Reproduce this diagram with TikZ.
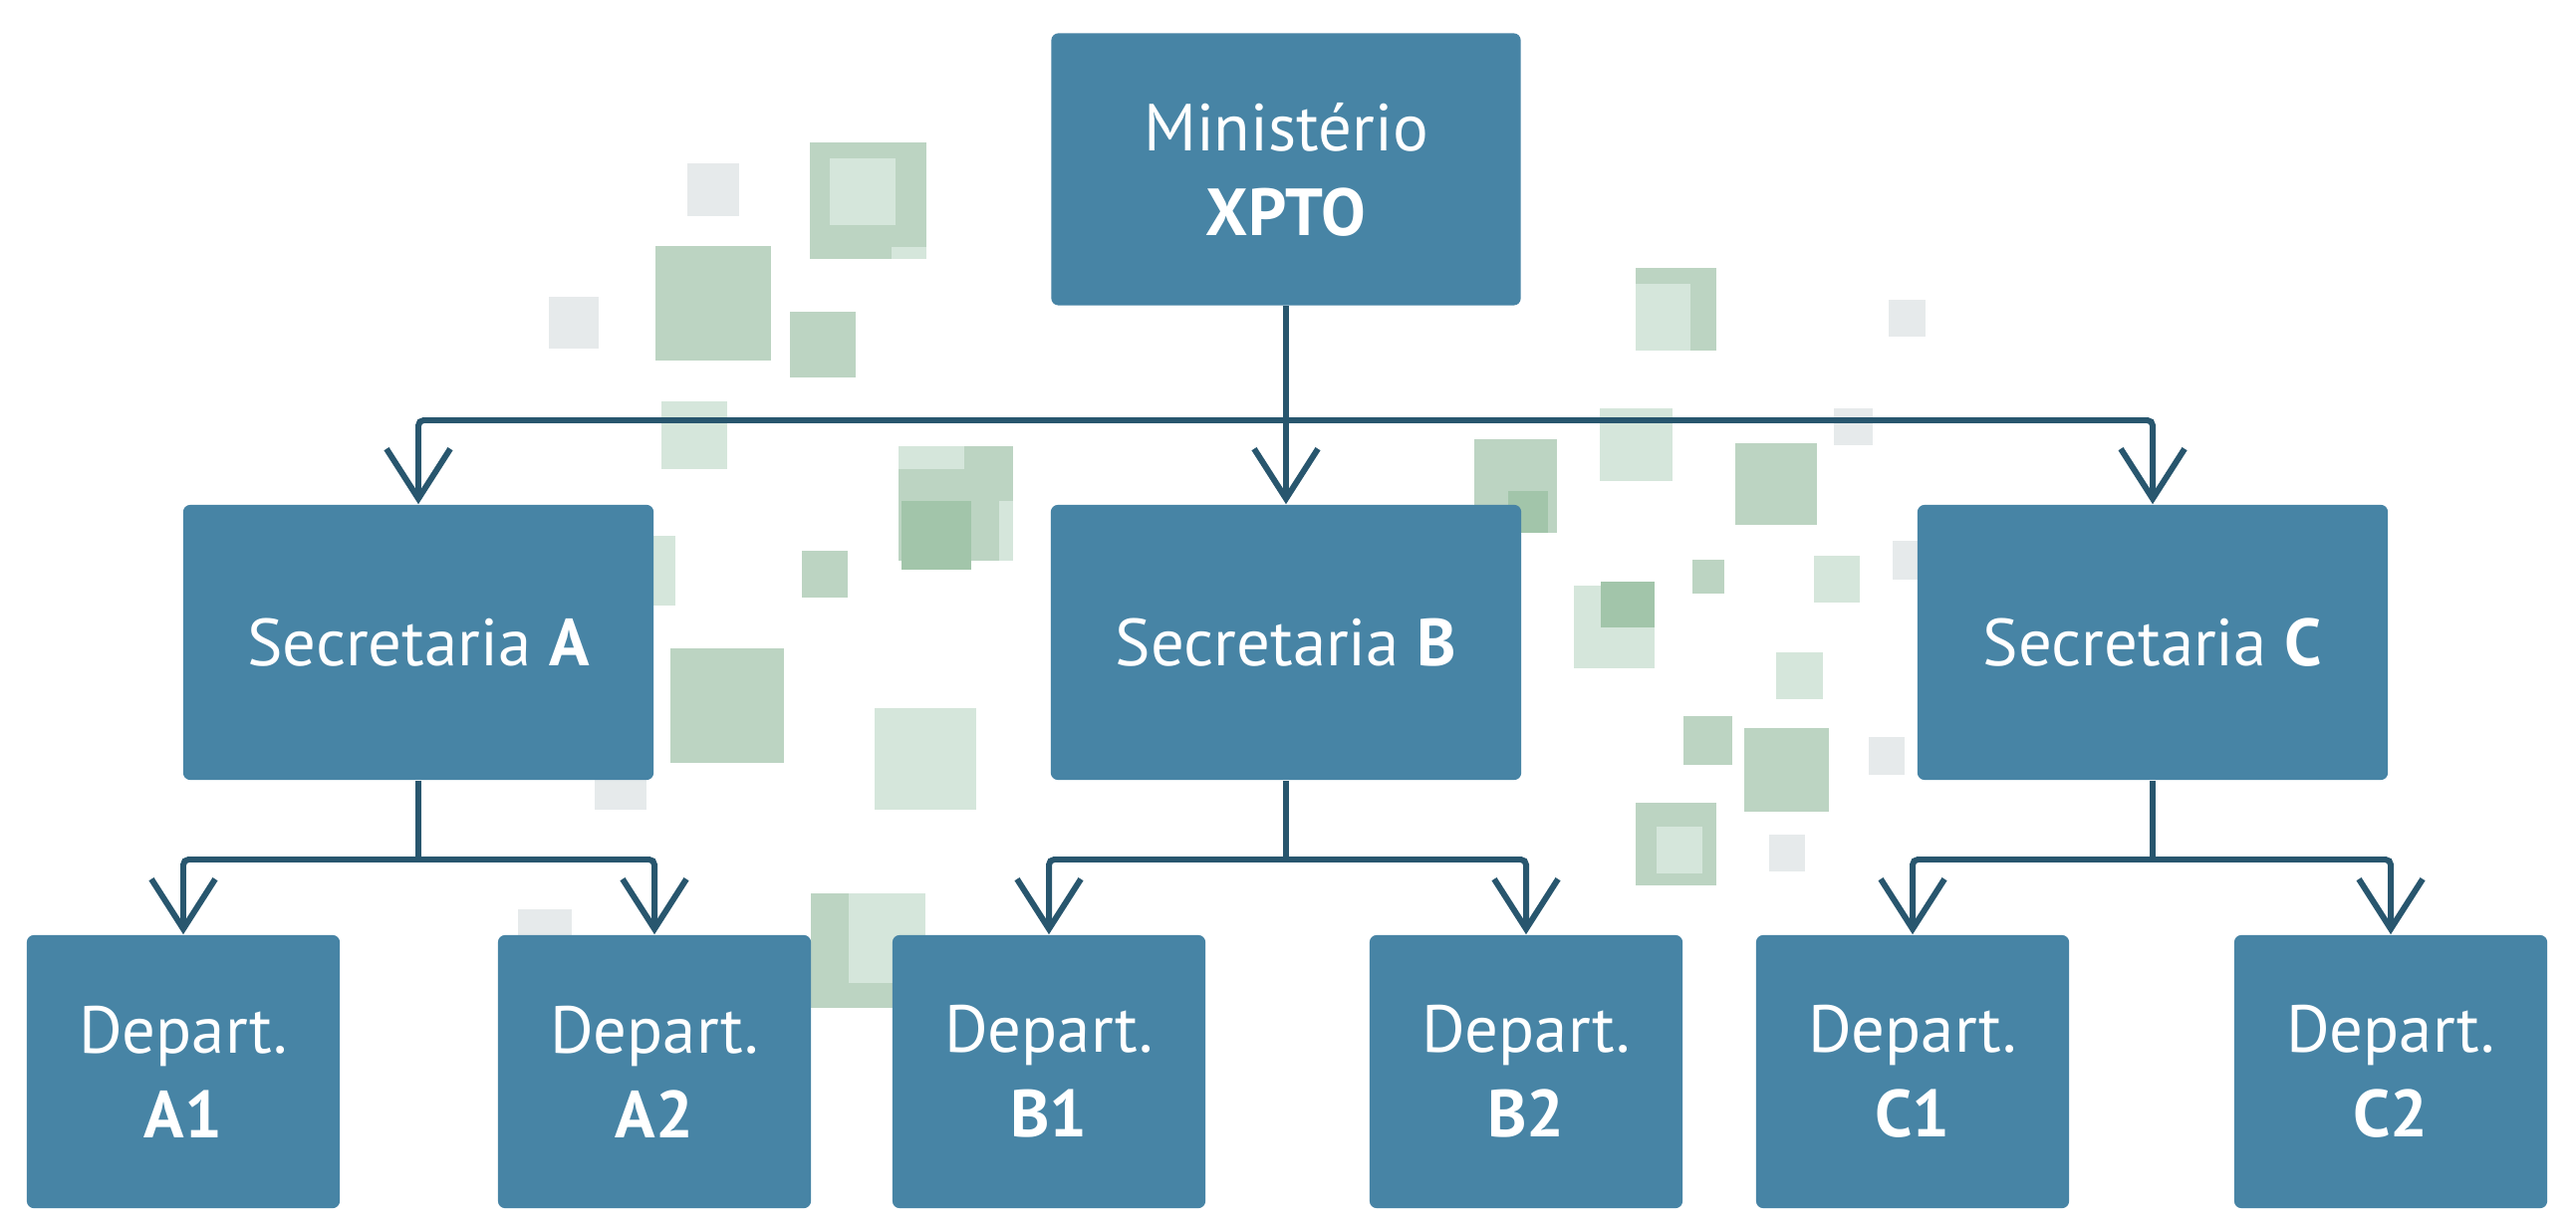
\documentclass[tikz,border=0pt]{standalone}
\usepackage{fontspec}
\setmainfont{PT Sans}
\usetikzlibrary{arrows.meta}
\definecolor{boxblue}{HTML}{4784A5}
\definecolor{linedark}{HTML}{28566E}
\definecolor{sqg}{HTML}{BCD4C2}
\definecolor{sql}{HTML}{D5E6DB}
\definecolor{sqgray}{HTML}{E6EAEB}
\definecolor{sqd}{HTML}{A2C5AA}
\begin{document}
\begin{tikzpicture}[x=0.01cm,y=-0.01cm,
  orgbox/.style={fill=boxblue, rounded corners=2pt, text=white, align=center,
    font=\fontsize{19}{24.2}\selectfont, inner sep=0pt},
  topbox/.style={orgbox, minimum width=4.71cm, minimum height=2.73cm},
  secbox/.style={orgbox, minimum width=4.72cm, minimum height=2.76cm},
  depbox/.style={orgbox, minimum width=3.14cm, minimum height=2.74cm},
  conn/.style={draw=linedark, line width=1.7pt, rounded corners=1.5pt},
  arr/.style={conn, -{Straight Barb[length=0.5cm, width=0.64cm, line width=1.7pt]}},
]
\path[use as bounding box, fill=white] (0,0) rectangle (2586,1234);

% decorative squares (left cluster)
\fill[sqgray] (690,164) rectangle (742,217);
\fill[sqg] (813,143) rectangle (930,260);
\fill[sql] (833,159) rectangle (899,226);
\fill[sql] (895,248) rectangle (930,260);
\fill[sqgray] (551,298) rectangle (601,350);
\fill[sqg] (658,247) rectangle (774,362);
\fill[sqg] (793,313) rectangle (859,379);
\fill[sql] (664,403) rectangle (730,471);
\fill[sqg] (902,448) rectangle (1017,563);
\fill[sql] (902,448) rectangle (968,471);
\fill[sqd] (905,503) rectangle (975,572);
\fill[sql] (1003,503) rectangle (1017,563);
\fill[sql] (630,538) rectangle (678,608);
\fill[sqg] (805,553) rectangle (851,600);
\fill[sqg] (673,651) rectangle (787,766);
\fill[sql] (878,711) rectangle (980,813);
\fill[sqgray] (597,760) rectangle (649,813);
\fill[sqgray] (520,913) rectangle (574,960);
\fill[sqg] (814,897) rectangle (929,1012);
\fill[sql] (852,897) rectangle (929,987);

% decorative squares (right cluster)
\fill[sqg] (1642,269) rectangle (1723,352);
\fill[sql] (1642,285) rectangle (1697,352);
\fill[sqgray] (1896,301) rectangle (1933,338);
\fill[sql] (1606,410) rectangle (1679,483);
\fill[sqgray] (1841,410) rectangle (1880,447);
\fill[sqg] (1480,441) rectangle (1563,535);
\fill[sqd] (1514,493) rectangle (1554,535);
\fill[sqg] (1742,445) rectangle (1824,527);
\fill[sqg] (1699,562) rectangle (1731,596);
\fill[sql] (1821,558) rectangle (1867,605);
\fill[sqgray] (1900,543) rectangle (1940,582);
\fill[sql] (1580,588) rectangle (1661,671);
\fill[sqd] (1607,584) rectangle (1661,630);
\fill[sql] (1783,655) rectangle (1830,702);
\fill[sqg] (1690,719) rectangle (1739,768);
\fill[sqg] (1751,731) rectangle (1836,815);
\fill[sqgray] (1876,740) rectangle (1912,778);
\fill[sqg] (1642,806) rectangle (1723,889);
\fill[sql] (1663,830) rectangle (1709,877);
\fill[sqgray] (1776,838) rectangle (1812,875);

% boxes
\node[topbox] (min) at (1291,170) {Ministério\\\textbf{XPTO}};
\node[secbox] (secA) at (420,645) {Secretaria \textbf{A}};
\node[secbox] (secB) at (1291,645) {Secretaria \textbf{B}};
\node[secbox] (secC) at (2161,645) {Secretaria \textbf{C}};
\node[depbox] (depA1) at (184,1076) {Depart.\\\textbf{A1}};
\node[depbox] (depA2) at (657,1076) {Depart.\\\textbf{A2}};
\node[depbox] (depB1) at (1053,1076) {Depart.\\\textbf{B1}};
\node[depbox] (depB2) at (1532,1076) {Depart.\\\textbf{B2}};
\node[depbox] (depC1) at (1920,1076) {Depart.\\\textbf{C1}};
\node[depbox] (depC2) at (2400,1076) {Depart.\\\textbf{C2}};

\coordinate (lvl1) at (0,422);
\coordinate (lvl2) at (0,863);

% connectors
\draw[arr] (min.south) -- (secB.north);
\draw[arr] (min.south |- lvl1) -| (secA.north);
\draw[arr] (min.south |- lvl1) -| (secC.north);

\draw[conn] (secA.south) -- (secA.south |- lvl2);
\draw[arr] (secA.south |- lvl2) -| (depA1.north);
\draw[arr] (secA.south |- lvl2) -| (depA2.north);

\draw[conn] (secB.south) -- (secB.south |- lvl2);
\draw[arr] (secB.south |- lvl2) -| (depB1.north);
\draw[arr] (secB.south |- lvl2) -| (depB2.north);

\draw[conn] (secC.south) -- (secC.south |- lvl2);
\draw[arr] (secC.south |- lvl2) -| (depC1.north);
\draw[arr] (secC.south |- lvl2) -| (depC2.north);
\end{tikzpicture}
\end{document}
